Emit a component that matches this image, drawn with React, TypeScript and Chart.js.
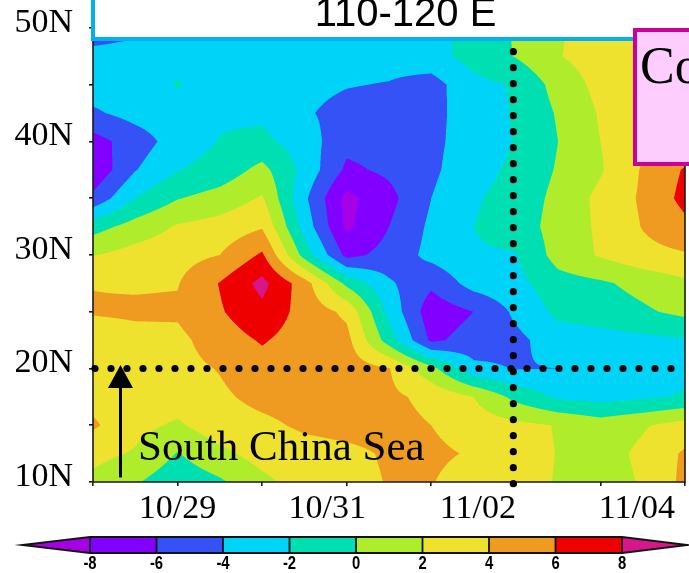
import React, { useEffect, useRef } from "react";
import { Chart, registerables } from "chart.js";

Chart.register(...registerables);

// Time axis: days since 10/28 00Z, 12-hourly
const DAYS = [0, 0.5, 1, 1.5, 2, 2.5, 3, 3.5, 4, 4.5, 5, 5.5, 6, 6.5, 7];
// Latitudes (deg N)
const LATS = [10, 12.5, 15, 17.5, 20, 22.5, 25, 27.5, 30, 32.5, 35, 37.5, 40, 42.5, 45, 47.5, 50];

// Anomaly values, one array per latitude (in time order)
const V10N = [1.5, 0.2, -1.3, -0.3, 1.5, 2.9, 3.4, 4.1, 4.1, 3.0, 2.6, 1.9, 1.0, 2.2, 4.5];
const V12N = [2.6, 1.8, -0.1, 1.5, 2.8, 3.3, 3.6, 4.2, 4.4, 3.8, 2.6, 1.95, 1.2, 2.4, 4.3];
const V15N = [4.3, 2.6, 1.7, 3.2, 3.6, 4.3, 4.6, 4.6, 4.0, 3.0, 2.5, 1.9, 1.0, 1.8, 2.8];
const V17N = [3.3, 3.0, 3.0, 3.7, 4.5, 4.8, 4.8, 4.4, 3.5, 2.0, -0.6, -2.3, -2.7, -2.3, -1.8];
const V20N = [3.1, 3.2, 3.4, 4.1, 5.2, 5.0, 5.0, 4.1, 0.6, -3.5, -4.1, -4.0, -3.1, -2.9, -2.6];
const V22N = [3.0, 3.4, 3.5, 5.0, 6.2, 5.0, 4.6, -1.0, -6.4, -5.2, -4.5, -3.0, -2.8, -2.5, -2.2];
const V25N = [4.15, 4.3, 4.3, 5.8, 7.5, 5.2, 3.6, -2.6, -7.2, -6.0, -3.6, -1.5, -1.0, -0.3, 0.5];
const V27N = [3.95, 3.8, 3.9, 6.1, 8.6, 4.9, -0.5, -3.7, -5.6, -3.2, -2.6, -0.8, -0.3, 0.6, 1.6];
const V30N = [1.9, 2.8, 3.3, 4.0, 6.3, -0.8, -6.6, -5.3, -3.4, -2.2, -2.1, 0.8, 2.2, 3.4, 3.8];
const V32N = [-0.8, 0.8, 2.2, 2.8, 3.8, -2.8, -8.4, -6.0, -3.6, -2.0, -1.2, 0.9, 2.3, 4.1, 5.5];
const V35N = [-5.5, -1.95, -0.1, 0.8, 2.2, -3.6, -8.6, -6.6, -4.0, -2.2, -1.3, 0.6, 2.5, 4.3, 6.6];
const V37N = [-7.6, -4.1, -2.1, -1.2, 0.6, -2.6, -6.4, -5.6, -4.4, -2.7, -1.6, 0.2, 1.8, 4.2, 6.2];
const V40N = [-6.8, -5.0, -3.1, -1.9, -1.5, -3.0, -5.4, -5.3, -4.5, -3.0, -1.9, 0.0, 2.0, 3.6, 4.4];
const V42N = [-4.3, -3.3, -2.8, -2.3, -2.4, -3.8, -4.6, -5.0, -4.6, -3.0, -1.8, 0.2, 2.2, 3.4, 4.0];
const V45N = [-3.0, -2.7, -1.9, -2.7, -3.0, -3.5, -3.9, -4.1, -4.8, -2.6, -1.8, 0.8, 2.6, 3.4, 3.8];
const V47N = [-3.2, -3.0, -2.4, -2.9, -3.0, -3.3, -3.4, -3.3, -2.8, -1.2, 0.1, 1.9, 2.9, 3.4, 3.6];
const V50N = [-5.4, -4.6, -3.6, -3.2, -3.0, -3.1, -3.0, -3.0, -2.7, -1.3, 0.2, 1.8, 2.8, 3.4, 3.6];

const GRID = [V10N, V12N, V15N, V17N, V20N, V22N, V25N, V27N, V30N, V32N, V35N, V37N, V40N, V42N, V45N, V47N, V50N];

// Contour levels and fill colours (below first level ... above last level)
const LEVELS = [-8, -6, -4, -2, 0, 2, 4, 6, 8];
const FILL_COLORS = ["#a600e6", "#8200ff", "#3452f6", "#00d3f8", "#00dfb2", "#aeec2c", "#efe22f", "#ef9b22", "#ee0000", "#d8168c"];
const LEVEL_LABELS = ["-8", "-6", "-4", "-2", "0", "2", "4", "6", "8"];

// Axis ticks
const DAY_TICKS = [0, 1, 2, 3, 4, 5, 6, 7];
const DATE_LABELS = ["10/29", "10/31", "11/02", "11/04"];
const DATE_LABEL_POS = [1, 2.77, 4.55, 6.43];
const LAT_MIN = 10;
const LAT_MAX = 50;

// Annotations
const TITLE = "110-120 E";
const BOX_TEXT = "Co";
const REGION_TEXT = "South China Sea";
const GUIDE_DAY = 4.97;
const GUIDE_LAT = 20;
const ARROW_DAY = 0.325;
const ARROW_FROM_LAT = 10.4;
const ARROW_TO_LAT = 20.3;

function hexToRgb(h: string) {
  const n = parseInt(h.slice(1), 16);
  return [(n >> 16) & 255, (n >> 8) & 255, n & 255];
}
const RGB = FILL_COLORS.map(hexToRgb);

function levelIndex(v: number) {
  let k = 0;
  while (k < LEVELS.length && v >= LEVELS[k]) k++;
  return k;
}

function locate(arr: number[], v: number) {
  if (v <= arr[0]) return [0, 0];
  const n = arr.length;
  if (v >= arr[n - 1]) return [n - 2, 1];
  let i = 0;
  while (i < n - 2 && v > arr[i + 1]) i++;
  return [i, (v - arr[i]) / (arr[i + 1] - arr[i])];
}

const contourPlugin = {
  id: "contourFill",
  beforeDatasetsDraw(chart: any) {
    const { ctx, chartArea: a, scales } = chart;
    const xs = scales.x;
    const ys = scales.y;
    const L = Math.round(a.left);
    const T = Math.round(a.top);
    const W = Math.round(a.right) - L;
    const H = Math.round(a.bottom) - T;
    const SS = 3;
    const img = ctx.createImageData(W, H);
    const ci: number[] = [], cf: number[] = [];
    for (let i = 0; i < W * SS; i++) {
      const t = xs.getValueForPixel(L + (i + 0.5) / SS);
      const [k, f] = locate(DAYS, t);
      ci.push(k); cf.push(f);
    }
    const ri: number[] = [], rf: number[] = [];
    for (let j = 0; j < H * SS; j++) {
      const lat = ys.getValueForPixel(T + (j + 0.5) / SS);
      const [k, f] = locate(LATS, lat);
      ri.push(k); rf.push(f);
    }
    const d = img.data;
    for (let py = 0; py < H; py++) {
      for (let px = 0; px < W; px++) {
        let r = 0, g = 0, b = 0;
        for (let sy = 0; sy < SS; sy++) {
          const j = py * SS + sy;
          const r0 = GRID[ri[j]], r1 = GRID[ri[j] + 1], fy = rf[j];
          for (let sx = 0; sx < SS; sx++) {
            const i = px * SS + sx;
            const c = ci[i], fx = cf[i];
            const v0 = r0[c] * (1 - fx) + r0[c + 1] * fx;
            const v1 = r1[c] * (1 - fx) + r1[c + 1] * fx;
            const v = v0 * (1 - fy) + v1 * fy;
            const col = RGB[levelIndex(v)];
            r += col[0]; g += col[1]; b += col[2];
          }
        }
        const o = (py * W + px) * 4;
        const n = SS * SS;
        d[o] = r / n; d[o + 1] = g / n; d[o + 2] = b / n; d[o + 3] = 255;
      }
    }
    ctx.putImageData(img, L, T);
  },
};

const overlayPlugin = {
  id: "overlay",
  beforeDraw(chart: any) {
    const { ctx, width, height } = chart;
    ctx.save();
    ctx.fillStyle = "#ffffff";
    ctx.fillRect(0, 0, width, height);
    ctx.restore();
  },
  afterDraw(chart: any) {
    const { ctx, chartArea: a, scales } = chart;
    const xs = scales.x;
    const ys = scales.y;
    ctx.save();

    // frame (left, bottom, right)
    ctx.strokeStyle = "#1a1a1a";
    ctx.lineWidth = 1.6;
    ctx.beginPath();
    ctx.moveTo(a.left, a.top);
    ctx.lineTo(a.left, a.bottom);
    ctx.lineTo(a.right, a.bottom);
    ctx.lineTo(a.right, a.top);
    ctx.stroke();

    // dotted guide lines
    ctx.fillStyle = "#000";
    const gy = ys.getPixelForValue(GUIDE_LAT);
    for (let px = a.left + 2; px <= a.right - 10; px += 16) {
      ctx.beginPath();
      ctx.arc(px, gy, 3.6, 0, Math.PI * 2);
      ctx.fill();
    }
    const gx = xs.getPixelForValue(GUIDE_DAY);
    for (let py = a.bottom + 1.7; py >= a.top + 20; py -= 16) {
      ctx.beginPath();
      ctx.arc(gx, py, 3.6, 0, Math.PI * 2);
      ctx.fill();
    }

    // arrow
    const ax = xs.getPixelForValue(ARROW_DAY);
    const ay0 = ys.getPixelForValue(ARROW_FROM_LAT);
    const ay1 = ys.getPixelForValue(ARROW_TO_LAT);
    ctx.strokeStyle = "#000";
    ctx.lineWidth = 3;
    ctx.beginPath();
    ctx.moveTo(ax, ay0);
    ctx.lineTo(ax, ay1 + 20);
    ctx.stroke();
    ctx.beginPath();
    ctx.moveTo(ax, ay1);
    ctx.lineTo(ax - 12.5, ay1 + 23);
    ctx.lineTo(ax + 12.5, ay1 + 23);
    ctx.closePath();
    ctx.fill();

    // region label
    ctx.font = '43px "Liberation Serif", "Times New Roman", serif';
    ctx.textAlign = "left";
    ctx.textBaseline = "alphabetic";
    ctx.fillText(REGION_TEXT, a.left + 45, a.bottom - 22);

    // title box
    ctx.fillStyle = "#ffffff";
    ctx.fillRect(a.left, -10, 700, 49);
    ctx.strokeStyle = "#00b0f0";
    ctx.lineWidth = 4;
    ctx.strokeRect(a.left, -10, 700, 49);
    ctx.fillStyle = "#000";
    ctx.font = '40px "Liberation Sans", Arial, sans-serif';
    ctx.textAlign = "center";
    ctx.fillText(TITLE, 405.5, 26);

    // pink box
    ctx.fillStyle = "#fdcdfd";
    ctx.fillRect(635, 30, 80, 134);
    ctx.strokeStyle = "#cc0099";
    ctx.lineWidth = 4;
    ctx.strokeRect(635, 30, 80, 134);
    ctx.fillStyle = "#000";
    ctx.font = '52px "Liberation Serif", "Times New Roman", serif';
    ctx.textAlign = "left";
    ctx.fillText(BOX_TEXT, 640, 83);

    // colour bar
    const cbL = 90, cbR = 622, cbT = 537, cbB = 553, tipL = 22, tipR = 688;
    const mid = (cbT + cbB) / 2;
    const seg = (cbR - cbL) / (LEVELS.length - 1);
    ctx.fillStyle = FILL_COLORS[0];
    ctx.beginPath();
    ctx.moveTo(cbL, cbT); ctx.lineTo(tipL, mid); ctx.lineTo(cbL, cbB); ctx.closePath();
    ctx.fill();
    ctx.fillStyle = FILL_COLORS[FILL_COLORS.length - 1];
    ctx.beginPath();
    ctx.moveTo(cbR, cbT); ctx.lineTo(tipR, mid); ctx.lineTo(cbR, cbB); ctx.closePath();
    ctx.fill();
    for (let k = 0; k < LEVELS.length - 1; k++) {
      ctx.fillStyle = FILL_COLORS[k + 1];
      ctx.fillRect(cbL + k * seg, cbT, seg, cbB - cbT);
    }
    ctx.strokeStyle = "#111";
    ctx.lineWidth = 1.8;
    ctx.beginPath();
    ctx.moveTo(cbL, cbT); ctx.lineTo(tipL, mid); ctx.lineTo(cbL, cbB);
    ctx.lineTo(cbR, cbB); ctx.lineTo(tipR, mid); ctx.lineTo(cbR, cbT); ctx.closePath();
    ctx.stroke();
    for (let k = 0; k < LEVELS.length; k++) {
      const px = cbL + k * seg;
      ctx.beginPath();
      ctx.moveTo(px, cbT); ctx.lineTo(px, cbB);
      ctx.stroke();
    }
    ctx.fillStyle = "#000";
    ctx.font = 'bold 19px "Liberation Sans", Arial, sans-serif';
    ctx.textAlign = "center";
    ctx.textBaseline = "middle";
    for (let k = 0; k < LEVELS.length; k++) {
      ctx.save();
      ctx.translate(cbL + k * seg, 564);
      ctx.scale(0.78, 1);
      ctx.fillText(LEVEL_LABELS[k], 0, 0);
      ctx.restore();
    }
    ctx.restore();
  },
};

export default function App() {
  const ref = useRef<HTMLCanvasElement | null>(null);
  useEffect(() => {
    const canvas = ref.current;
    if (!canvas) return;
    const nodes: any[] = [];
    LATS.forEach((lat, j) => DAYS.forEach((t, i) => nodes.push({ x: t, y: lat, v: GRID[j][i] })));
    const xTickValues = Array.from(new Set([...DAY_TICKS, ...DATE_LABEL_POS])).sort((p, q) => p - q);
    const serif = '"Liberation Serif", "Times New Roman", serif';
    const chart = new Chart(canvas, {
      type: "scatter",
      data: { datasets: [{ data: nodes, pointRadius: 0, pointHoverRadius: 0, showLine: false }] },
      options: {
        animation: false,
        responsive: false,
        devicePixelRatio: 1,
        events: [],
        layout: { padding: { left: 0, right: 4, top: 28, bottom: 0 } },
        plugins: { legend: { display: false }, tooltip: { enabled: false }, title: { display: false } },
        scales: {
          x: {
            type: "linear",
            min: DAYS[0],
            max: DAYS[DAYS.length - 1],
            position: "bottom",
            afterBuildTicks: (s: any) => {
              s.ticks = xTickValues.map((v) => ({ value: v }));
            },
            afterFit: (s: any) => {
              s.height = 91;
              s.paddingLeft = 0;
              s.paddingRight = 0;
            },
            border: { display: false },
            grid: {
              drawOnChartArea: false,
              drawTicks: true,
              tickLength: 4,
              lineWidth: 1.6,
              color: (c: any) => (c.tick && DAY_TICKS.includes(c.tick.value) ? "#1a1a1a" : "rgba(0,0,0,0)"),
            },
            ticks: {
              autoSkip: false,
              maxRotation: 0,
              minRotation: 0,
              padding: 3,
              color: "#000",
              font: { family: serif, size: 34 },
              callback: (v: any) => {
                const k = DATE_LABEL_POS.indexOf(Number(v));
                return k >= 0 ? DATE_LABELS[k] : "";
              },
            },
          },
          y: {
            type: "linear",
            min: LAT_MIN,
            max: LAT_MAX,
            position: "left",
            afterFit: (s: any) => {
              s.width = 93;
              s.paddingTop = 0;
              s.paddingBottom = 0;
            },
            border: { display: false },
            grid: { drawOnChartArea: false, drawTicks: true, tickLength: 4, lineWidth: 1.6, color: "#1a1a1a" },
            ticks: {
              stepSize: 5,
              autoSkip: false,
              padding: 16,
              labelOffset: -5,
              color: "#000",
              font: { family: serif, size: 34 },
              callback: (v: any) => (Number(v) % 10 === 0 ? `${v}N` : ""),
            },
          },
        },
      },
      plugins: [contourPlugin, overlayPlugin],
    } as any);
    return () => chart.destroy();
  }, []);
  return (
    <div style={{ position: "fixed", left: 0, top: 0, width: 689, height: 573, background: "#fff" }}>
      <canvas ref={ref} width={689} height={573} style={{ display: "block", width: 689, height: 573 }} />
    </div>
  );
}
